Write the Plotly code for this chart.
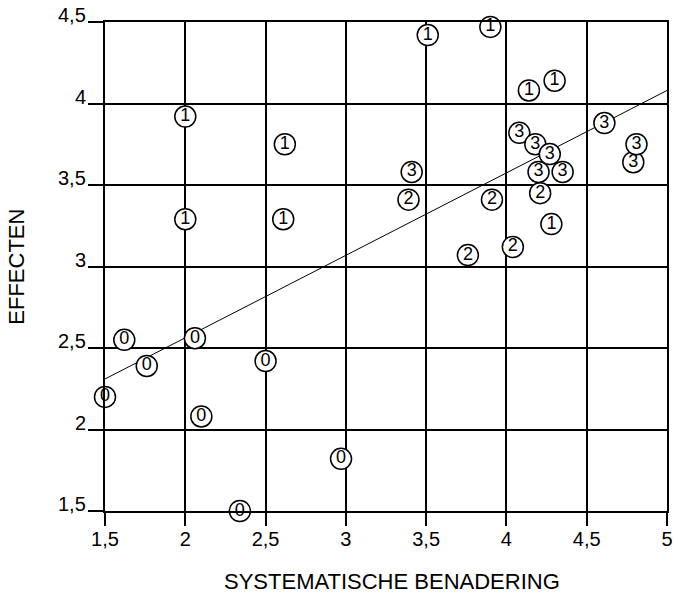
import plotly.graph_objects as go

# ---- data ----
g0_x = [1.62, 2.06, 1.76, 1.50, 2.50, 2.10, 2.34, 2.97]
g0_y = [2.55, 2.56, 2.39, 2.20, 2.42, 2.08, 1.50, 1.82]

g1_x = [2.00, 2.62, 2.00, 2.61, 3.51, 3.90, 4.14, 4.30, 4.28]
g1_y = [3.92, 3.75, 3.29, 3.29, 4.42, 4.47, 4.08, 4.14, 3.26]

g2_x = [3.39, 3.91, 4.21, 4.04, 3.76]
g2_y = [3.41, 3.41, 3.45, 3.12, 3.07]

g3_x = [3.41, 4.79, 4.20, 4.35, 4.08, 4.18, 4.27, 4.61, 4.81]
g3_y = [3.58, 3.64, 3.58, 3.58, 3.82, 3.75, 3.69, 3.88, 3.75]

group_labels = ["0", "1", "2", "3"]

trend_x = [1.5, 5.0]
trend_y = [2.31, 4.08]

x_tickvals = [1.5, 2, 2.5, 3, 3.5, 4, 4.5, 5]
x_ticktext = ["1,5", "2", "2,5", "3", "3,5", "4", "4,5", "5"]
y_tickvals = [1.5, 2, 2.5, 3, 3.5, 4, 4.5]
y_ticktext = ["1,5", "2", "2,5", "3", "3,5", "4", "4,5"]

x_title = "SYSTEMATISCHE BENADERING"
y_title = "EFFECTEN"

FONT = "Liberation Sans, Arial, Helvetica, sans-serif"

fig = go.Figure()

fig.add_trace(go.Scatter(
    x=trend_x, y=trend_y, mode="lines",
    line=dict(color="black", width=1), hoverinfo="skip", showlegend=False,
))

groups = [(g0_x, g0_y), (g1_x, g1_y), (g2_x, g2_y), (g3_x, g3_y)]
for lab, (gx, gy) in zip(group_labels, groups):
    fig.add_trace(go.Scatter(
        x=gx, y=gy, mode="markers+text",
        text=[lab] * len(gx), textposition="middle center",
        textfont=dict(family=FONT, size=18, color="black"),
        marker=dict(symbol="circle", size=21, color="white",
                    line=dict(color="black", width=1.5)),
        cliponaxis=False, showlegend=False, name=lab,
    ))

# y tick labels sit slightly above their grid line, as in the reference
ytick_annotations = [
    dict(text=t, xref="paper", yref="y", x=0, y=v, xanchor="right",
         yanchor="middle", xshift=-17, yshift=7, showarrow=False,
         font=dict(size=20))
    for v, t in zip(y_tickvals, y_ticktext)
]

fig.update_layout(
    width=674, height=597,
    margin=dict(l=105, r=7, t=22, b=86),
    paper_bgcolor="white", plot_bgcolor="white",
    font=dict(family=FONT, color="black"),
    xaxis=dict(
        range=[1.5, 5], tickvals=x_tickvals, ticktext=x_ticktext,
        showgrid=True, gridcolor="black", gridwidth=2,
        showline=True, linecolor="black", linewidth=2, mirror=True,
        ticks="outside", ticklen=13, tickwidth=2, tickcolor="black",
        tickfont=dict(size=20), zeroline=False, ticklabelstandoff=-4,
        automargin=False,
    ),
    yaxis=dict(
        range=[1.5, 4.5], tickvals=y_tickvals, showticklabels=False,
        showgrid=True, gridcolor="black", gridwidth=2,
        showline=True, linecolor="black", linewidth=2, mirror=True,
        ticks="outside", ticklen=15, tickwidth=2, tickcolor="black",
        zeroline=False, automargin=False,
    ),
    annotations=ytick_annotations + [
        dict(text=x_title, xref="paper", yref="paper", x=0.51, y=-0.145,
             xanchor="center", yanchor="middle", showarrow=False,
             font=dict(size=22)),
        dict(text=y_title, xref="paper", yref="paper", x=-0.158, y=0.5,
             xanchor="center", yanchor="middle", showarrow=False,
             textangle=-90, font=dict(size=22)),
    ],
)

fig.write_html("out.html", config={"displayModeBar": False},
               post_script="document.body.style.margin='0px';")
